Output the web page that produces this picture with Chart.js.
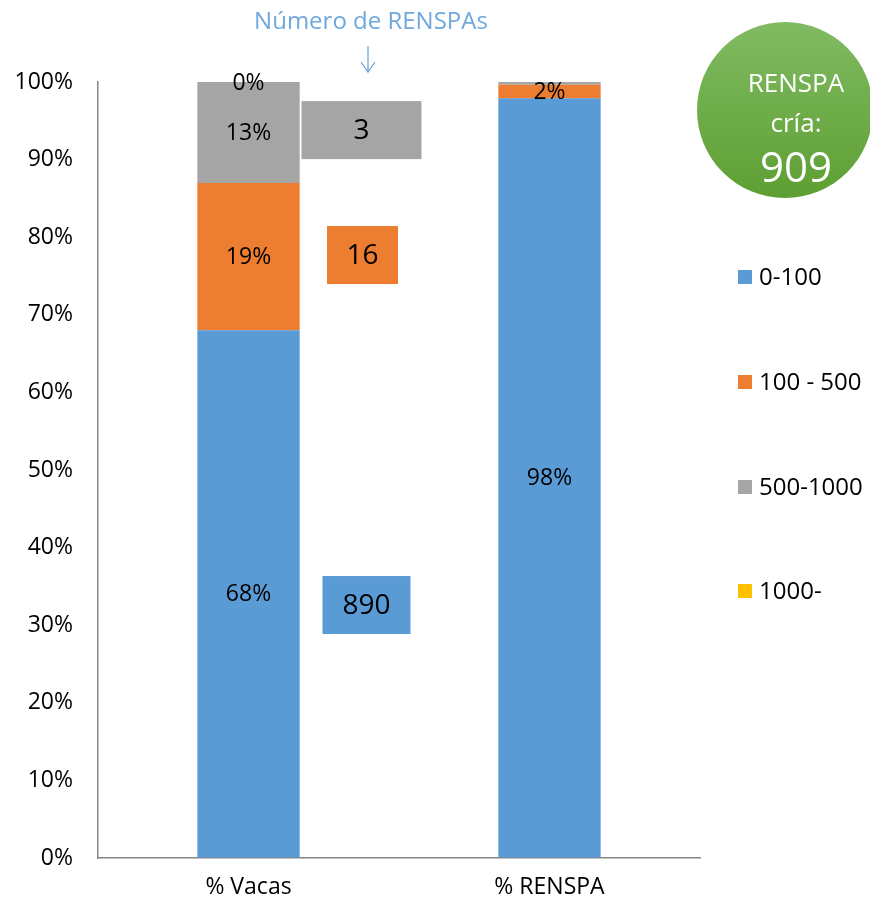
<!DOCTYPE html>
<html>
<head>
<meta charset="utf-8">
<script src="https://cdn.jsdelivr.net/npm/chart.js@4/dist/chart.umd.min.js"></script>
<style>
  html, body { margin: 0; padding: 0; background: #fff; }
  #wrap { width: 870px; height: 905px; position: relative; }
</style>
</head>
<body>
<div id="wrap"><canvas id="chart" width="870" height="905"></canvas></div>
<script>
const categories = ['% Vacas', '% RENSPA'];
const seriesNames = ['0-100', '100 - 500', '500-1000', '1000-'];
const seriesColors = ['#5b9bd5', '#ed7d31', '#a5a5a5', '#ffc000'];
const vacasPct = [68, 19, 13, 0];
const renspaPct = [97.9, 1.76, 0.33, 0];
const renspaCounts = [890, 16, 3];
const renspaTotal = 909;
const yTicks = [0, 10, 20, 30, 40, 50, 60, 70, 80, 90, 100];
// labels that were removed in the original: [series, category]
const hiddenLabels = [[2, 1], [3, 1]];

const FONT = '"Open Sans", "DejaVu Sans", sans-serif';

// count boxes next to the Vacas bar: y value of box centre, box width
const countBoxes = [
  { series: 0, y: 32.6, w: 88, dx: 118 },
  { series: 1, y: 77.7, w: 71, dx: 114 },
  { series: 2, y: 93.8, w: 120, dx: 113 }
];

const datasets = seriesNames.map((name, i) => ({
  label: name,
  data: [vacasPct[i], renspaPct[i]],
  backgroundColor: seriesColors[i],
  borderWidth: 0
}));

const extras = {
  id: 'extras',
  afterDatasetsDraw(chart) {
    const ctx = chart.ctx;
    const xs = chart.scales.x;
    const ys = chart.scales.y;
    ctx.save();
    ctx.textAlign = 'center';
    ctx.textBaseline = 'middle';

    // segment labels
    ctx.font = '23px ' + FONT;
    ctx.fillStyle = '#000';
    chart.data.datasets.forEach((ds, i) => {
      const meta = chart.getDatasetMeta(i);
      meta.data.forEach((bar, j) => {
        if (hiddenLabels.some(h => h[0] === i && h[1] === j)) return;
        const v = ds.data[j];
        const cy = (bar.y + bar.base) / 2;
        ctx.fillText(Math.round(v) + '%', bar.x, cy + 1);
      });
    });

    // count boxes
    const x0 = xs.getPixelForValue(0);
    countBoxes.forEach(b => {
      const cx = x0 + b.dx;
      const cy = ys.getPixelForValue(b.y);
      ctx.fillStyle = seriesColors[b.series];
      ctx.fillRect(cx - b.w / 2, cy - 29, b.w, 58);
      ctx.fillStyle = '#000';
      ctx.font = '28px ' + FONT;
      ctx.fillText(String(renspaCounts[b.series]), cx, cy + 1);
    });

    // header + arrow
    ctx.fillStyle = '#6fa8dc';
    ctx.font = '24px ' + FONT;
    ctx.fillText('Número de RENSPAs', 371, 22);
    ctx.strokeStyle = '#6fa8dc';
    ctx.lineWidth = 1.3;
    ctx.beginPath();
    ctx.moveTo(368, 46); ctx.lineTo(368, 72);
    ctx.moveTo(361, 62); ctx.lineTo(368, 72); ctx.lineTo(375, 62);
    ctx.stroke();

    // green circle
    const g = ctx.createLinearGradient(0, 22, 0, 198);
    g.addColorStop(0, '#80bb62');
    g.addColorStop(1, '#5e9f33');
    ctx.fillStyle = g;
    ctx.beginPath();
    ctx.arc(785, 110, 88, 0, Math.PI * 2);
    ctx.fill();
    ctx.fillStyle = '#fff';
    ctx.font = '26px ' + FONT;
    ctx.fillText('RENSPA', 796, 85);
    ctx.fillText('cría:', 796, 125);
    ctx.font = '42px ' + FONT;
    ctx.fillText(String(renspaTotal), 796, 170);

    // legend
    ctx.textAlign = 'left';
    ctx.font = '24px ' + FONT;
    const rows = [277, 382, 487, 591];
    seriesNames.forEach((name, i) => {
      ctx.fillStyle = seriesColors[i];
      ctx.fillRect(738, rows[i] - 7, 14, 14);
      ctx.fillStyle = '#000';
      ctx.fillText(name, 759, rows[i] + 1);
    });
    ctx.restore();
  }
};

new Chart(document.getElementById('chart').getContext('2d'), {
  type: 'bar',
  data: { labels: categories, datasets: datasets },
  options: {
    responsive: false,
    animation: false,
    datasets: { bar: { categoryPercentage: 1, barPercentage: 0.34 } },
    layout: { padding: { top: 82, right: 170, bottom: 0, left: 0 } },
    scales: {
      x: {
        stacked: true,
        grid: { color: 'transparent', drawTicks: false },
        border: { display: true, color: '#868686', width: 1.5 },
        ticks: { color: '#000', font: { family: FONT, size: 23 }, padding: 16 },
        afterFit(s) { s.height = 47; }
      },
      y: {
        stacked: true,
        min: 0,
        max: 100,
        afterBuildTicks(s) { s.ticks = yTicks.map(v => ({ value: v })); },
        grid: { color: 'transparent', drawTicks: false },
        border: { display: true, color: '#868686', width: 1.5 },
        ticks: { color: '#000', font: { family: FONT, size: 23 }, padding: 25, callback: v => v + '%' },
        afterFit(s) { s.width = 98; }
      }
    },
    plugins: {
      legend: { display: false },
      tooltip: { enabled: false }
    }
  },
  plugins: [extras]
});
</script>
</body>
</html>
